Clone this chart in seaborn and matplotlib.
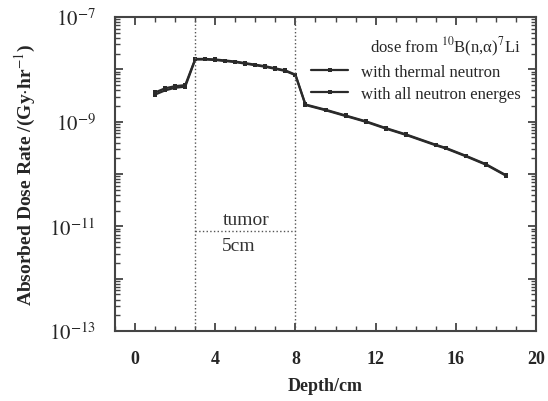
import numpy as np
import pandas as pd
import matplotlib
matplotlib.use("Agg")
import matplotlib.pyplot as plt
import matplotlib.ticker as mticker
import seaborn as sns

# depth (cm) and dose rate (Gy/hr)
depth = [1, 1.5, 2, 2.5, 3, 3.5, 4, 4.5, 5, 5.5, 6, 6.5, 7, 7.5, 8,
         8.5, 9.5, 10.5, 11.5, 12.5, 13.5, 15, 15.5, 16.5, 17.5, 18.5]
log_all = [-8.44, -8.36, -8.32, -8.30, -7.80, -7.80, -7.81, -7.83, -7.85, -7.88,
           -7.91, -7.94, -7.98, -8.02, -8.10,
           -8.67, -8.77, -8.88, -8.99, -9.12, -9.24, -9.44, -9.50, -9.65, -9.81, -10.02]
log_thermal = [-8.48, -8.40, -8.35, -8.33, -7.81, -7.81, -7.82, -7.84, -7.86, -7.89,
               -7.92, -7.95, -7.99, -8.03, -8.11,
               -8.68, -8.78, -8.89, -9.00, -9.13, -9.25, -9.45, -9.51, -9.66, -9.82, -10.03]
labels = ["with thermal neutron", "with all neutron energes"]
xtick_vals = [0, 4, 8, 12, 16, 20]
xtick_text = ["0", "4", "8", "12", "16", "20"]
tumor_edges = [3, 8]

df = pd.concat([
    pd.DataFrame({"depth": depth, "dose": 10.0 ** np.array(log_thermal), "series": labels[0]}),
    pd.DataFrame({"depth": depth, "dose": 10.0 ** np.array(log_all), "series": labels[1]}),
])

sns.set_style("ticks")
plt.rcParams['font.family'] = ['Liberation Serif', 'DejaVu Serif']
plt.rcParams['mathtext.fontset'] = 'stix'

fig = plt.figure(figsize=(5.48, 4.02), dpi=100)
ax = fig.add_axes([0.21, 0.174, 0.768, 0.781])

sns.lineplot(data=df, x="depth", y="dose", hue="series", palette=["#2a2a2a", "#2a2a2a"],
             marker="s", markersize=3.5, markeredgewidth=0, linewidth=1.6, ax=ax)

ax.set_yscale("log")
ax.set_xlim(-1, 20)
ax.set_ylim(1e-13, 1e-7)

# tumour region 3-8 cm
for xe in tumor_edges:
    ax.axvline(xe, color="#555555", linestyle=":", linewidth=1.0)
ax.plot(tumor_edges, [8.3e-12, 8.3e-12], color="#555555", linestyle=":", linewidth=1.0)
ax.text(4.35, 1.35e-11, "tumor", fontsize=14, color="#333333", va="center")
ax.text(4.35, 4.4e-12, "5cm", fontsize=14, color="#333333", va="center")

ax.set_xticks(xtick_vals)
ax.set_xticklabels(xtick_text, fontsize=13, fontweight="bold")
ax.xaxis.set_minor_locator(mticker.MultipleLocator(1))
ax.yaxis.set_major_locator(mticker.LogLocator(base=10, numticks=20))
ax.yaxis.set_minor_locator(mticker.LogLocator(base=10, subs=np.arange(2, 10), numticks=20))
ax.yaxis.set_major_formatter(mticker.FuncFormatter(
    lambda v, p: r"$10^{%d}$" % round(np.log10(v)) if round(np.log10(v)) % 2 else ""))
ax.yaxis.set_minor_formatter(mticker.NullFormatter())
ax.tick_params(which="both", direction="in", top=True, right=True, color="#444444")
ax.tick_params(which="major", length=6, width=1.3)
ax.tick_params(which="minor", length=3.5, width=1.0)
ax.tick_params(axis="y", which="major", labelsize=15, pad=14)
ax.tick_params(axis="x", which="major", pad=14)
for s in ax.spines.values():
    s.set_color("#444444")
    s.set_linewidth(1.5)

ax.set_xlabel("Depth/cm", fontsize=13, fontweight="bold", labelpad=7)
ax.set_ylabel(r"Absorbed Dose Rate /(Gy$\cdot$hr$^{-1}$)", fontsize=14, fontweight="bold", labelpad=8)

leg = ax.legend(title="dose from $^{10}$B(n,α)$^{7}$Li", loc="upper right",
                frameon=False, fontsize=12, title_fontsize=12, handlelength=2.2,
                labelspacing=0.35, numpoints=1, bbox_to_anchor=(1.0, 0.99))
leg._legend_box.align = "right"

fig.savefig("out.png", dpi=100)
